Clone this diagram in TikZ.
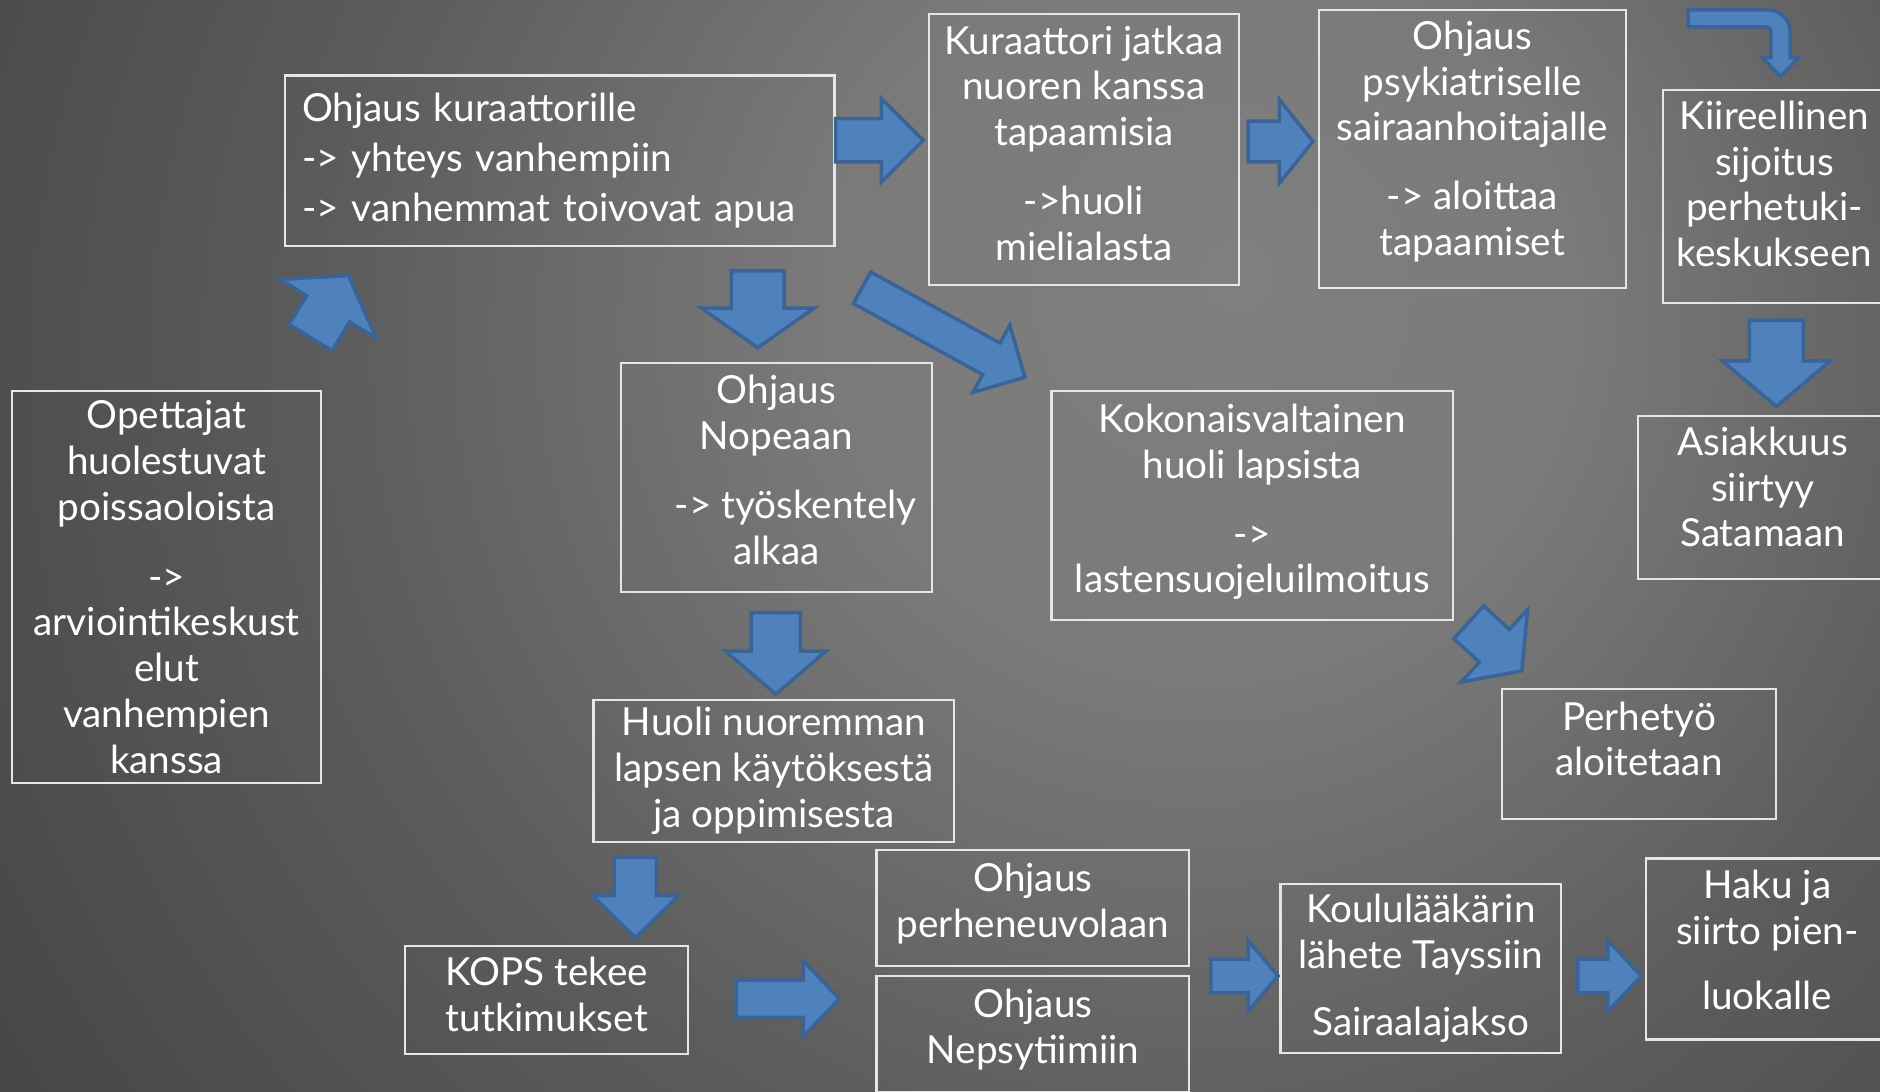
\documentclass[tikz,border=0pt]{standalone}
\usepackage{fontspec}
\setmainfont{Lato}
\usepackage{tikz}
\usetikzlibrary{positioning}
\usetikzlibrary{calc}
\definecolor{arrow-blue}{HTML}{4F81BD}
\definecolor{arrow-edge}{HTML}{3A6495}
\definecolor{box-line}{HTML}{E6E6E6}
\definecolor{bg-a}{HTML}{7F7F7F}
\definecolor{bg-b}{HTML}{7A7A7A}
\definecolor{bg-c}{HTML}{5C5C5C}
\definecolor{bg-d}{HTML}{444444}
\definecolor{bg-e}{HTML}{383838}
\definecolor{bg-f}{HTML}{1C1C1C}
\definecolor{bg-g}{HTML}{121212}
\pgfdeclareradialshading{slide-bg}{\pgfpoint{8bp}{8bp}}{%
  color(0bp)=(bg-a); color(10bp)=(bg-b); color(22bp)=(bg-c);
  color(36bp)=(bg-d); color(42bp)=(bg-e); color(58bp)=(bg-f);
  color(80bp)=(bg-g)}

\begin{document}
\begin{tikzpicture}[x=0.012cm, y=-0.012cm,
  font=\fontsize{11pt}{13pt}\selectfont,
  sink/.code={\def\boxsink{#1}},
  box/.style 2 args={draw=box-line, line width=0.6pt, text=white, align=center,
    inner sep=0pt, minimum width=#1*0.012cm, minimum height=#2*0.012cm, sink=6pt,
    execute at end node={\rule[-\boxsink]{0pt}{0pt}}},
  barrow/.style={fill=arrow-blue, draw=arrow-edge, line width=1pt, line join=miter}]
\useasboundingbox (0,0) rectangle (1568,910);
\clip (0,0) rectangle (1568,910);
\shade[shading=slide-bg] (0,-300) rectangle (1568,1250);

% left column and top row
\node[box={258}{327}, sink=0pt]
  (opettajat)
  at (139, 489.5)
  {Opettajat\\huolestuvat\\poissaoloista\\[7pt]->\\arviointikeskust\\elut\\vanhempien\\kanssa};
\node[box={458}{142}, sink=0pt, align=left, text width=430*0.012cm, inner xsep=14*0.012cm]
  (kuraattori)
  at (467, 134)
  {Ohjaus kuraattorille\\[1.3pt]-> yhteys vanhempiin\\[1.3pt]-> vanhemmat toivovat apua};
\node[box={258}{226}, sink=4pt]
  (jatkaa)
  at (904, 125)
  {Kuraattori jatkaa\\nuoren kanssa\\tapaamisia\\[6.6pt]->huoli\\mielialasta};
\node[box={256}{232}]
  (psyk)
  at (1228, 124)
  {Ohjaus\\psykiatriselle\\sairaanhoitajalle\\[6.6pt]-> aloittaa\\tapaamiset};
\node[box={186}{178}, sink=7.4pt]
  (kiireellinen)
  at (1480, 164)
  {Kiireellinen\\sijoitus\\perhetuki-\\keskukseen};
\node[box={208}{136}]
  (satama)
  at (1470, 415)
  {Asiakkuus\\siirtyy\\Satamaan};

% middle
\node[box={259}{191}, sink=4.6pt]
  (nopea)
  at (647.5, 398.5)
  {Ohjaus\\Nopeaan\\[6.6pt]\hspace*{11pt}-> työskentely\\alkaa};
\node[box={335}{191}, sink=4pt]
  (kokonais)
  at (1044.5, 421.5)
  {Kokonaisvaltainen\\huoli lapsista\\[6.6pt]->\\lastensuojeluilmoitus};
\node[box={228}{108}, sink=8.7pt]
  (perhetyo)
  at (1367, 629)
  {Perhetyö\\aloitetaan};
\node[box={301}{118}, sink=0pt]
  (huoli)
  at (645.5, 643)
  {Huoli nuoremman\\lapsen käytöksestä\\ja oppimisesta};

% bottom row
\node[box={236}{90}, sink=3.3pt]
  (kops)
  at (456, 834)
  {KOPS tekee\\tutkimukset};
\node[box={261}{97}, sink=4.6pt]
  (perheneuvola)
  at (861.5, 757.5)
  {Ohjaus\\perheneuvolaan};
\node[box={261}{97}, sink=4.6pt]
  (nepsy)
  at (861.5, 862.5)
  {Ohjaus\\Nepsytiimiin};
\node[box={234}{141}, sink=0pt]
  (laakari)
  at (1185, 807.5)
  {Koululääkärin\\lähete Tayssiin\\[6pt]Sairaalajakso};
\node[box={202}{151}, sink=5.3pt]
  (haku)
  at (1474, 791.5)
  {Haku ja\\siirto pien-\\[5.5pt]luokalle};

% block arrows: tail x/y, angle, length, shaft, head width, head length
\foreach \tx/\ty/\ang/\len/\sw/\hw/\hl in {
    259/281.5/58.5/60.6/21/47/32.5,
    697/117/0/73/18/35/35,
    632/226/-90/64/22/47/33,
    719/240/-28.8/155/15/32/32,
    1041/118/0/54/17/35/28,
    1481.5/267/-90/72/22.5/45/38,
    647/511/-90/68/20.5/42/36,
    1225/519/-42.5/60/18.5/41/31,
    530/715/-90/67/17.5/36/35,
    614/833/0/86/15.5/31.5/30,
    1010/814/0/56/14/29.5/25,
    1316/814/0/53/14/29.5/28} {
  \draw[barrow, shift={(\tx,\ty)}, rotate=\ang]
    (0,-\sw) -- ({\len-\hl},-\sw) -- ({\len-\hl},-\hw) -- (\len,0)
    -- ({\len-\hl},\hw) -- ({\len-\hl},\sw) -- (0,\sw) -- cycle;
}
% bent arrow above kiireellinen
\draw[barrow]
  (1408,8.3) -- (1475,8.3) arc[start angle=-90, end angle=0, radius=18]
  -- (1493,48) -- (1500,48) -- (1485,64) -- (1470,48) -- (1477,48)
  -- (1477,26.3) arc[start angle=0, end angle=-90, radius=3.8]
  -- (1408,22.5) -- cycle;
\end{tikzpicture}
\end{document}
